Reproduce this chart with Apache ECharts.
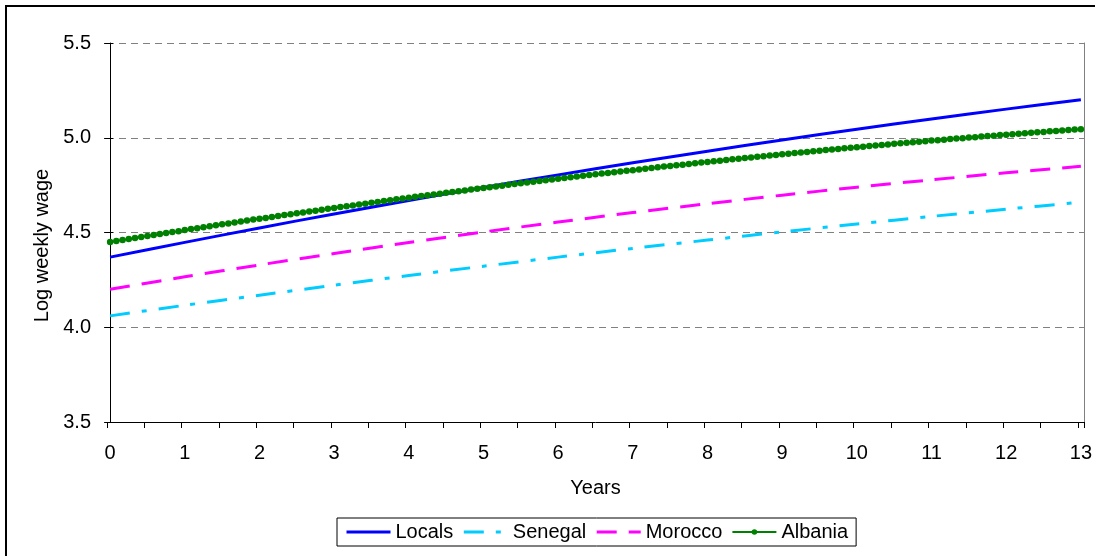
<!DOCTYPE html>
<html>
<head>
<meta charset="utf-8">
<script src="https://cdn.jsdelivr.net/npm/echarts@6/dist/echarts.min.js"></script>
<style>
  html, body { margin: 0; padding: 0; width: 1095px; height: 556px; overflow: hidden; background: #fff; }
  #chart { position: absolute; left: 0; top: 0; width: 1095px; height: 556px; }
  #frame { position: absolute; left: 5px; top: 5px; width: 1200px; height: 700px; border: 2px solid #000; pointer-events: none; }
</style>
</head>
<body>
<div id="chart"></div>
<div id="frame"></div>
<script>
// ---- data ----
const years = [0, 1, 2, 3, 4, 5, 6, 7, 8, 9, 10, 11, 12, 13];
const yearLabels = ['0','1','2','3','4','5','6','7','8','9','10','11','12','13'];
const locals  = [4.370, 4.448, 4.524, 4.598, 4.669, 4.738, 4.804, 4.868, 4.929, 4.988, 5.045, 5.099, 5.151, 5.200];
const senegal = [4.060, 4.116, 4.169, 4.222, 4.273, 4.322, 4.370, 4.416, 4.460, 4.503, 4.545, 4.585, 4.623, 4.660];
const morocco = [4.200, 4.266, 4.329, 4.389, 4.447, 4.503, 4.555, 4.605, 4.652, 4.697, 4.739, 4.778, 4.815, 4.849];
// Albania: monthly points (12 per year), years 0..13
const albania = [
  4.450,4.455,4.461,4.466,4.471,4.476,4.482,4.487,4.492,4.497,4.502,4.507,
  4.513,4.518,4.523,4.528,4.533,4.538,4.543,4.548,4.553,4.558,4.563,4.568,
  4.572,4.577,4.582,4.587,4.592,4.596,4.601,4.606,4.611,4.615,4.620,4.625,
  4.629,4.634,4.639,4.643,4.648,4.652,4.657,4.661,4.666,4.670,4.675,4.679,
  4.684,4.688,4.692,4.697,4.701,4.705,4.710,4.714,4.718,4.722,4.727,4.731,
  4.735,4.739,4.743,4.747,4.752,4.756,4.760,4.764,4.768,4.772,4.776,4.780,
  4.784,4.788,4.791,4.795,4.799,4.803,4.807,4.811,4.814,4.818,4.822,4.826,
  4.829,4.833,4.837,4.840,4.844,4.848,4.851,4.855,4.858,4.862,4.865,4.869,
  4.872,4.876,4.879,4.883,4.886,4.889,4.893,4.896,4.900,4.903,4.906,4.909,
  4.913,4.916,4.919,4.922,4.925,4.929,4.932,4.935,4.938,4.941,4.944,4.947,
  4.950,4.953,4.956,4.959,4.962,4.965,4.968,4.971,4.973,4.976,4.979,4.982,
  4.985,4.987,4.990,4.993,4.996,4.998,5.001,5.003,5.006,5.009,5.011,5.014,
  5.016,5.019,5.021,5.024,5.026,5.029,5.031,5.034,5.036,5.038,5.041,5.043,
  5.045
];
const monthsPerYear = 12;

// ---- build ----
const categories = albania.map((v, i) => (i % monthsPerYear === 0 ? yearLabels[i / monthsPerYear] : ''));
const FONT = '"Liberation Sans", Arial, sans-serif';
const chart = echarts.init(document.getElementById('chart'), null, { renderer: 'canvas' });
const halfCat = 0.5 / monthsPerYear;
const noSymbol = { color: 'rgba(0,0,0,0)', borderWidth: 0, opacity: 0 };

chart.setOption({
  animation: false,
  backgroundColor: '#ffffff',
  textStyle: { fontFamily: FONT, color: '#000' },
  grid: { left: 107, right: 11, top: 43, bottom: 134, containLabel: false },
  legend: {
    data: [
      { name: 'Locals', itemStyle: noSymbol, lineStyle: { width: 3 } },
      { name: 'Senegal', itemStyle: noSymbol, lineStyle: { width: 3 } },
      { name: 'Morocco', itemStyle: noSymbol, lineStyle: { width: 3 } },
      { name: 'Albania', lineStyle: { width: 2 } }
    ],
    left: 337,
    top: 518,
    orient: 'horizontal',
    itemWidth: 44,
    itemHeight: 7,
    itemGap: 9,
    padding: [4, 8],
    borderColor: '#000',
    borderWidth: 1,
    borderRadius: 0,
    textStyle: { fontFamily: FONT, fontSize: 20, color: '#000' }
  },
  xAxis: [
    {
      type: 'category',
      data: categories,
      boundaryGap: true,
      name: 'Years',
      nameLocation: 'middle',
      nameGap: 56,
      nameTextStyle: { fontFamily: FONT, fontSize: 20, color: '#000' },
      axisLine: { lineStyle: { color: '#000', width: 1 } },
      axisTick: { show: true, interval: 5, length: 6, lineStyle: { color: '#000' } },
      axisLabel: { interval: 11, margin: 21, fontFamily: FONT, fontSize: 20, color: '#000' },
      splitLine: { show: false }
    },
    {
      type: 'value',
      min: -halfCat,
      max: years[years.length - 1] + halfCat,
      show: false
    }
  ],
  yAxis: [
    {
      type: 'value',
      min: 3.5,
      max: 5.5,
      interval: 0.5,
      name: 'Log weekly wage',
      nameLocation: 'middle',
      nameGap: 55,
      nameRotate: 90,
      nameTextStyle: { fontFamily: FONT, fontSize: 20, color: '#000', padding: [0, 26, 0, 0] },
      axisLine: { show: true, lineStyle: { color: '#000', width: 1 } },
      axisTick: { show: true, length: 6, lineStyle: { color: '#000' } },
      axisLabel: { margin: 16, fontFamily: FONT, fontSize: 20, color: '#000', formatter: v => v.toFixed(1) },
      splitLine: { show: true, lineStyle: { color: '#808080', width: 1, type: [7, 5] } }
    },
    {
      type: 'value',
      min: 3.5,
      max: 5.5,
      interval: 0.5,
      position: 'right',
      axisLine: { show: true, lineStyle: { color: '#808080', width: 1 } },
      axisTick: { show: false },
      axisLabel: { show: false },
      splitLine: { show: false }
    },
    {
      type: 'value',
      min: 3.5,
      max: 5.5,
      interval: 0.5,
      position: 'left',
      axisLine: { show: false },
      axisTick: { show: true, inside: true, length: 6, lineStyle: { color: '#000' } },
      axisLabel: { show: false },
      splitLine: { show: false }
    }
  ],
  series: [
    {
      name: 'Locals',
      type: 'line',
      xAxisIndex: 1,
      yAxisIndex: 0,
      smooth: 0.3,
      showSymbol: false,
      symbol: 'none',
      color: '#0000FF',
      lineStyle: { color: '#0000FF', width: 3 },
      data: years.map((y, i) => [y, locals[i]])
    },
    {
      name: 'Senegal',
      type: 'line',
      xAxisIndex: 1,
      yAxisIndex: 0,
      smooth: 0.3,
      showSymbol: false,
      symbol: 'none',
      color: '#00CCFF',
      lineStyle: { color: '#00CCFF', width: 3, type: [20, 12, 5, 12] },
      data: years.map((y, i) => [y, senegal[i]])
    },
    {
      name: 'Morocco',
      type: 'line',
      xAxisIndex: 1,
      yAxisIndex: 0,
      smooth: 0.3,
      showSymbol: false,
      symbol: 'none',
      color: '#FF00FF',
      lineStyle: { color: '#FF00FF', width: 3, type: [20, 12] },
      data: years.map((y, i) => [y, morocco[i]])
    },
    {
      name: 'Albania',
      type: 'line',
      xAxisIndex: 0,
      yAxisIndex: 0,
      showSymbol: true,
      showAllSymbol: true,
      symbol: 'circle',
      symbolSize: 6.5,
      color: '#008000',
      itemStyle: { color: '#008000' },
      lineStyle: { color: '#008000', width: 2 },
      data: albania
    }
  ]
});
</script>
</body>
</html>
